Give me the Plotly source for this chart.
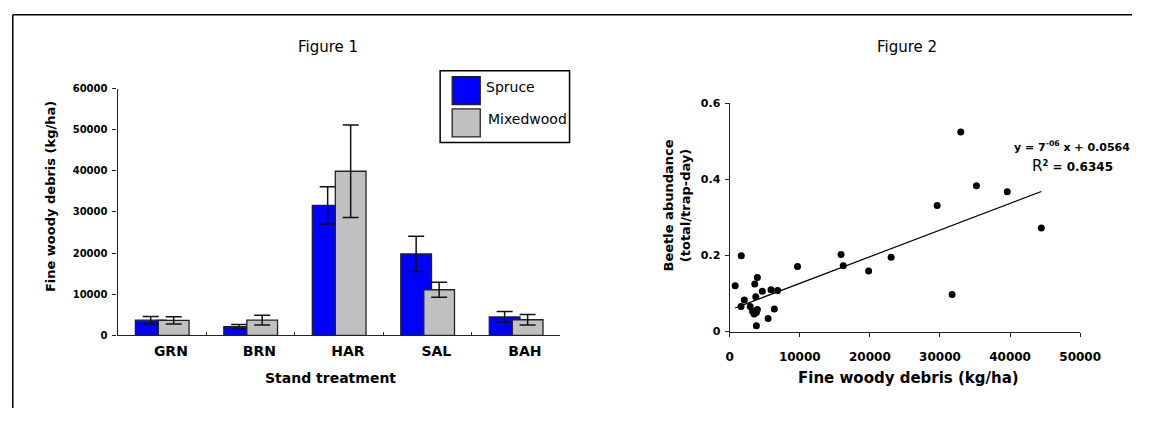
import numpy as np
import plotly.graph_objects as go

# ---------------- data ----------------
categories = ["GRN", "BRN", "HAR", "SAL", "BAH"]
spruce = [3700, 2100, 31600, 19800, 4500]
spruce_err = [900, 550, 4550, 4300, 1300]
mixedwood = [3650, 3700, 39900, 11100, 3800]
mixedwood_err = [900, 1200, 11250, 1800, 1250]

fwd = [783, 1656, 1620, 2090, 2930, 3250, 3490, 3800, 3950, 3580, 3950, 3720,
       4650, 5900, 6840, 6370, 5480, 3810, 9680, 15890, 16200, 19820, 23030,
       29600, 31730, 32970, 35200, 39600, 44460]
beetle = [0.120, 0.199, 0.066, 0.083, 0.066, 0.053, 0.046, 0.050, 0.058, 0.125,
          0.142, 0.0915, 0.106, 0.110, 0.108, 0.059, 0.034, 0.015, 0.171, 0.202,
          0.173, 0.159, 0.195, 0.331, 0.097, 0.524, 0.383, 0.367, 0.272]
trend_slope = 7e-06
trend_intercept = 0.0564
r_squared = 0.6345

fig1_yticks = [0, 10000, 20000, 30000, 40000, 50000, 60000]
fig2_xticks = [0, 10000, 20000, 30000, 40000, 50000]
fig2_yticks = [0, 0.2, 0.4, 0.6]

# ---------------- layout helpers ----------------
# The page body keeps its default 8px margin, so the figure is 16px smaller
# than the window and every reference pixel is offset by 8.
OFF = 8
W, H = 1161 - 2 * OFF, 423 - 2 * OFF
FONT = "DejaVu Sans"


def px(x):
    return (x - OFF) / W


def py(y):
    return 1 - (y - OFF) / H


fig = go.Figure()

# Figure 1 bars
fig.add_trace(go.Bar(
    x=categories, y=spruce, name="Spruce", xaxis="x", yaxis="y",
    marker=dict(color="#0000FF", line=dict(color="#222222", width=1.3)),
    offset=-0.30, width=0.347,
    error_y=dict(type="data", array=spruce_err, color="#111111", thickness=1.5, width=8),
    showlegend=False,
))
fig.add_trace(go.Bar(
    x=categories, y=mixedwood, name="Mixedwood", xaxis="x", yaxis="y",
    marker=dict(color="#C0C0C0", line=dict(color="#222222", width=1.3)),
    offset=-0.04, width=0.347,
    error_y=dict(type="data", array=mixedwood_err, color="#111111", thickness=1.5, width=8),
    showlegend=False,
))

# Figure 2 scatter + trend
fig.add_trace(go.Scatter(
    x=fwd, y=beetle, mode="markers", xaxis="x2", yaxis="y2",
    marker=dict(color="black", size=7), showlegend=False, name="Beetles",
))
tx = np.array([min(fwd), max(fwd)], dtype=float)
fig.add_trace(go.Scatter(
    x=tx, y=trend_slope * tx + trend_intercept, mode="lines", xaxis="x2", yaxis="y2",
    line=dict(color="black", width=1.2), showlegend=False, name="Linear trend",
))

axis_common = dict(showgrid=False, zeroline=False, showline=True, linecolor="#222222",
                   linewidth=1.3, tickcolor="#222222")

fig.update_layout(
    width=W, height=H, margin=dict(l=0, r=0, t=0, b=0),
    paper_bgcolor="white", plot_bgcolor="white",
    barmode="overlay",
    font=dict(family=FONT, color="black"),
    xaxis=dict(domain=[px(116), px(568.3)], anchor="y", type="category",
               range=[-0.5, 4.5], ticks="inside", tickson="boundaries", ticklen=3,
               ticklabelshift=9, ticklabelstandoff=3,
               tickfont=dict(family=FONT, size=14, weight="bold"), **axis_common),
    yaxis=dict(domain=[py(340), py(85)], anchor="x", range=[0, 60000],
               tickvals=fig1_yticks, tickformat="d", ticks="outside", ticklen=4,
               ticklabelstandoff=3,
               tickfont=dict(family=FONT, size=10, weight="bold"), **axis_common),
    xaxis2=dict(domain=[px(741.7), px(1100)], anchor="y2", range=[0, 50000],
                tickvals=fig2_xticks, tickformat="d", ticks="outside", ticklen=4,
                ticklabelstandoff=10,
                tickfont=dict(family=FONT, size=12, weight="bold"), **axis_common),
    yaxis2=dict(domain=[py(336), py(100)], anchor="x2", range=[0, 0.6],
                tickvals=fig2_yticks, ticks="outside", ticklen=4, ticklabelstandoff=2,
                tickfont=dict(family=FONT, size=11, weight="bold"), **axis_common),
)

shapes = [
    # outer frame (top and left edges)
    dict(type="line", xref="paper", yref="paper", x0=px(8.8), x1=1, y0=py(8.8), y1=py(8.8),
         line=dict(color="black", width=1.5)),
    dict(type="line", xref="paper", yref="paper", x0=px(8.8), x1=px(8.8), y0=py(8.8), y1=0,
         line=dict(color="black", width=1.5)),
    # legend box
    dict(type="rect", xref="paper", yref="paper", x0=px(445.7), x1=px(578),
         y0=py(140.7), y1=py(66.7), line=dict(color="black", width=1.5), fillcolor="white"),
    dict(type="rect", xref="paper", yref="paper", x0=px(458), x1=px(486.7),
         y0=py(101.7), y1=py(72.7), line=dict(color="#222222", width=1.3), fillcolor="#0000FF"),
    dict(type="rect", xref="paper", yref="paper", x0=px(458), x1=px(486.7),
         y0=py(135), y1=py(106), line=dict(color="#222222", width=1.3), fillcolor="#C0C0C0"),
]

ann = []


def add_text(text, x, y, size, bold=False, xanchor="center", angle=0):
    ann.append(dict(text=text, x=px(x), y=py(y), xref="paper", yref="paper",
                    xanchor=xanchor, yanchor="middle", showarrow=False, textangle=angle,
                    font=dict(family=FONT, size=size, color="black",
                              weight="bold" if bold else "normal")))


add_text("Figure 1", 331, 41.7, 15)
add_text("Figure 2", 923, 41.7, 15)
add_text("Spruce", 490.7, 83, 14, xanchor="left")
add_text("Mixedwood", 493, 116.7, 14, xanchor="left")
add_text("Fine woody debris (kg/ha)", 48, 197, 13, bold=True, angle=-90)
add_text("Stand treatment", 334, 384, 14, bold=True)
add_text("Beetle abundance<br>(total/trap-day)", 688, 205.6, 13, bold=True, angle=-90)
add_text("Fine woody debris (kg/ha)", 924, 384, 15, bold=True)
add_text("y = 7<sup>-06</sup> x + %.4f" % trend_intercept, 1030, 145, 11, bold=True,
         xanchor="left")
add_text("<span style='font-size:15px;font-weight:normal'>R</span><sup>2</sup> = %.4f" % r_squared,
         1049, 165, 12, bold=True, xanchor="left")

fig.update_layout(shapes=shapes, annotations=ann)

fig.write_html("out.html", config={"displayModeBar": False})
